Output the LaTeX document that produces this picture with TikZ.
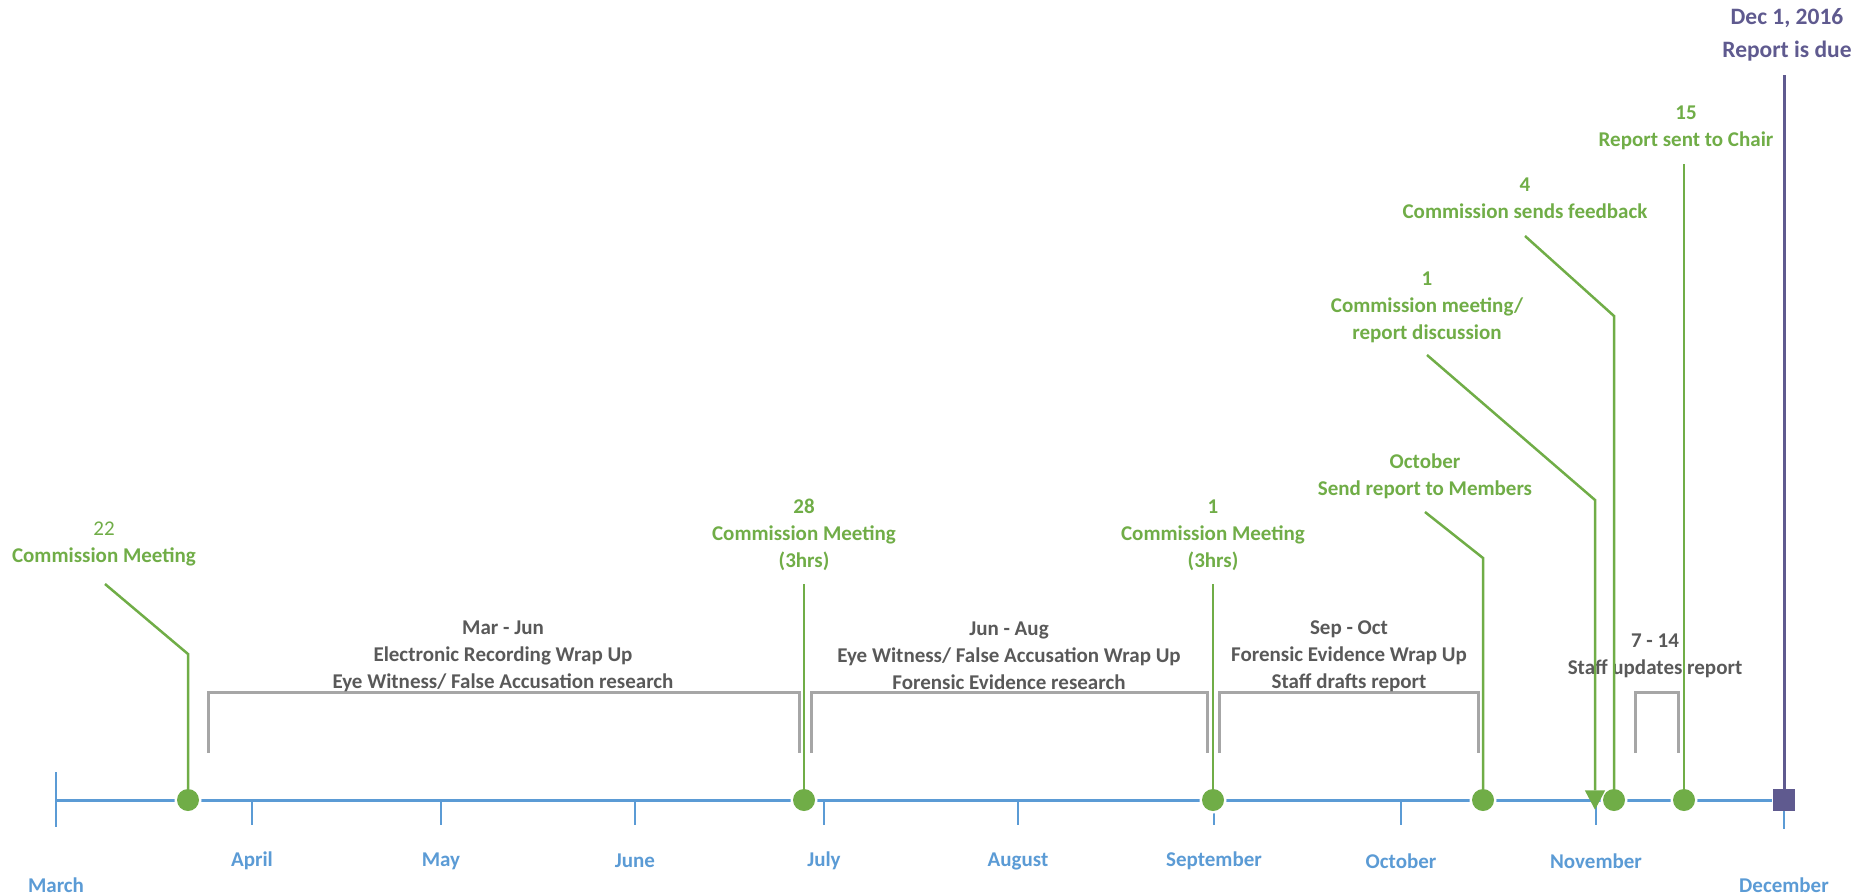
\documentclass[tikz,border=0pt]{standalone}
\usepackage{fontspec}
\setmainfont{Carlito}
\usetikzlibrary{shapes.geometric}
\definecolor{evgreen}{HTML}{70AD47}
\definecolor{axblue}{HTML}{5B9BD5}
\definecolor{txgray}{HTML}{595959}
\definecolor{brgray}{HTML}{A6A6A6}
\definecolor{duepurple}{HTML}{5F5A8F}
\begin{document}
\begin{tikzpicture}[x=1pt,y=-1pt,
  evlab/.style={text=evgreen, font=\bfseries\fontsize{21}{27}\selectfont, align=center, inner sep=0pt},
  duelab/.style={text=duepurple, font=\bfseries\fontsize{23.5}{33}\selectfont, align=center, inner sep=0pt},
  brlab/.style={text=txgray, font=\bfseries\fontsize{21}{27}\selectfont, align=center, inner sep=0pt},
  monlab/.style={text=axblue, font=\bfseries\fontsize{21}{25}\selectfont, inner sep=0pt},
  evdot/.style={circle, fill=evgreen, inner sep=0pt, minimum size=22pt},
  halo/.style={circle, fill=white, inner sep=0pt, minimum size=27pt},
  evline/.style={draw=evgreen, line width=2.5pt},
  brline/.style={draw=brgray, line width=3pt},
  tickline/.style={draw=axblue, line width=2.5pt},
  axline/.style={draw=axblue, line width=3pt}]
\useasboundingbox (0,0) rectangle (1875,895);

% axis
\coordinate (axstart) at (56,800);
\coordinate (axend) at (1772,800);
\draw[axline] (axstart) -- (axend);

% month ticks and labels
\coordinate (tMarA) at (56,772); \coordinate (tMarB) at (56,827);
\draw[tickline] (tMarA) -- (tMarB);
\foreach \nm/\x in {Apr/252,May/441,Jun/635,Jul/824,Aug/1018,Sep/1214,Oct/1401,Nov/1596}{
  \coordinate (t\nm A) at (\x,800); \coordinate (t\nm B) at (\x,825);
  \draw[tickline] (t\nm A) -- (t\nm B);
}
\coordinate (tDecA) at (1784,800); \coordinate (tDecB) at (1784,829);
\draw[tickline] (tDecA) -- (tDecB);

\node[monlab] (mMar) at (56,885) {March};
\node[monlab] (mApr) at (252,861) {April};
\node[monlab] (mMay) at (441,861) {May};
\node[monlab] (mJun) at (635,861) {June};
\node[monlab] (mJul) at (824,861) {July};
\node[monlab] (mAug) at (1018,861) {August};
\node[monlab] (mSep) at (1214,861) {September};
\node[monlab] (mOct) at (1401,861) {October};
\node[monlab] (mNov) at (1596,861) {November};
\node[monlab] (mDec) at (1784,885) {December};

% brackets
\coordinate (b1a) at (208,753); \coordinate (b1b) at (208,692); \coordinate (b1c) at (799,692); \coordinate (b1d) at (799,753);
\draw[brline] (b1a) -- (b1b) -- (b1c) -- (b1d);
\coordinate (b2a) at (811,753); \coordinate (b2b) at (811,692); \coordinate (b2c) at (1207,692); \coordinate (b2d) at (1207,753);
\draw[brline] (b2a) -- (b2b) -- (b2c) -- (b2d);
\coordinate (b3a) at (1219,753); \coordinate (b3b) at (1219,692); \coordinate (b3c) at (1478,692); \coordinate (b3d) at (1478,753);
\draw[brline] (b3a) -- (b3b) -- (b3c) -- (b3d);
\coordinate (b4a) at (1635,753); \coordinate (b4b) at (1635,692); \coordinate (b4c) at (1678,692); \coordinate (b4d) at (1678,753);
\draw[brline] (b4a) -- (b4b) -- (b4c) -- (b4d);

\node[brlab] (tMJ) at (503,656) {Mar - Jun\\Electronic Recording Wrap Up\\Eye Witness/ False Accusation research};
\node[brlab] (tJA) at (1009,656) {Jun - Aug\\Eye Witness/ False Accusation Wrap Up\\Forensic Evidence research};
\node[brlab] (tSO) at (1349,656) {Sep - Oct\\Forensic Evidence Wrap Up\\Staff drafts report};

% halos behind event markers
\node[halo] (h22) at (188,800) {};
\node[halo] (h28) at (804,800) {};
\node[halo] (hsep) at (1213,800) {};
\node[halo] (hoct) at (1483,800) {};
\node[halo] (hn4) at (1614,800) {};
\node[halo] (h15) at (1684,800) {};

% event markers
\node[evdot] (d22) at (188,800) {};
\node[evdot] (d28) at (804,800) {};
\node[evdot] (dsep) at (1213,800) {};
\node[evdot] (doct) at (1483,800) {};
\node[inner sep=0pt, minimum width=20pt, minimum height=19pt] (tri) at (1595,800) {};
\fill[evgreen] (tri.north west) -- (tri.north east) -- (tri.south) -- cycle;
\node[evdot] (dn4) at (1614,800) {};
\node[evdot] (d15) at (1684,800) {};
\node[fill=duepurple, inner sep=0pt, minimum size=22pt] (sq) at (1784,800) {};

% labels
\node[evlab] (l22) at (104,544) {{\mdseries 22}\\Commission Meeting};
\node[evlab] (l28) at (804,535) {28\\Commission Meeting\\(3hrs)};
\node[evlab] (lsep) at (1213,535) {1\\Commission Meeting\\(3hrs)};
\node[evlab] (loct) at (1425,476) {October\\Send report to Members};
\node[evlab] (ln1) at (1427,307) {1\\Commission meeting/\\report discussion};
\node[evlab] (ln4) at (1525,198) {4\\Commission sends feedback};
\node[evlab] (l15) at (1686,128) {15\\Report sent to Chair};
\node[duelab] (ldue) at (1787,35) {Dec 1, 2016\\Report is due};
\node[brlab] (t714) at (1655,656) {7 - 14\\Staff updates report};

% connectors
\coordinate (c22a) at (105,584); \coordinate (c22b) at (188,654);
\draw[evline] (c22a) -- (c22b) -- (d22.north);
\coordinate (c28a) at (804,584);
\draw[evline] (c28a) -- (d28.north);
\coordinate (csepa) at (1213,584);
\draw[evline] (csepa) -- (dsep.north);
\coordinate (cocta) at (1425,512); \coordinate (coctb) at (1483,558);
\draw[evline] (cocta) -- (coctb) -- (doct.north);
\coordinate (cn1a) at (1427,355); \coordinate (cn1b) at (1595,500);
\draw[evline] (cn1a) -- (cn1b) -- (tri.north);
\coordinate (cn4a) at (1525,236); \coordinate (cn4b) at (1614,316);
\draw[evline] (cn4a) -- (cn4b) -- (dn4.north);
\coordinate (c15a) at (1684,164);
\draw[evline] (c15a) -- (d15.north);
\coordinate (cduea) at (1784,75);
\draw[draw=duepurple, line width=3pt] (cduea) -- (sq.north);
\end{tikzpicture}
\end{document}
